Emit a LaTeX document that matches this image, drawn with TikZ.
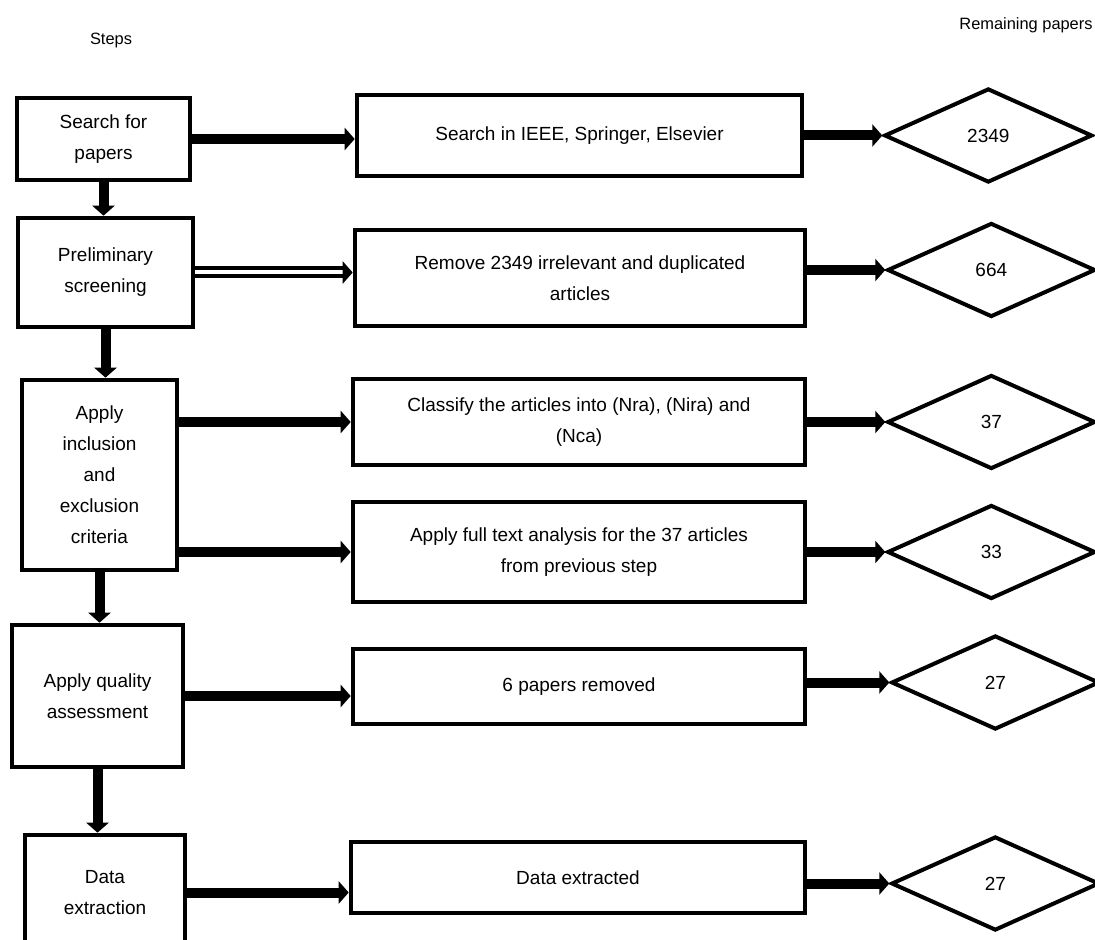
\documentclass[tikz,border=0pt]{standalone}
\usepackage{fontspec}
\setmainfont{Liberation Sans}
\usetikzlibrary{positioning,shapes.geometric,arrows.meta}

\tikzset{
  boxfont/.style={font=\fontsize{9.5}{15.5}\selectfont},
  heading/.style={font=\fontsize{8.2}{10}\selectfont},
  stepbox/.style={draw, line width=2.3pt, align=center, inner sep=0pt, boxfont},
  taskbox/.style={draw, line width=2.3pt, align=center, inner sep=0pt, boxfont},
  countbox/.style={draw, diamond, line width=2pt, inner sep=0pt,
    minimum width=104pt, minimum height=47pt, boxfont},
  flow/.style={line width=5pt, -{Triangle[length=5pt,width=11pt]}},
  dblflow/.style={double, double distance=2pt, line width=2pt,
    -{Triangle[length=5pt,width=11pt]}}
}

\begin{document}
\begin{tikzpicture}[x=0.5pt,y=-0.5pt]
  \useasboundingbox (0,0) rectangle (1095,940);
  \fill[white] (0,0) rectangle (1095,940);

  %% column titles
  \node[heading] (steps) at (111,40) {Steps};
  \node[heading] (remain) at (1026,25) {Remaining papers};

  %% steps
  \node[stepbox, minimum width=86.5pt, minimum height=41pt] (s1) at (103.5,139) {Search for\\papers};
  \node[stepbox, minimum width=87.5pt, minimum height=54.5pt] (s2) at (105.5,272.5) {Preliminary\\screening};
  \node[stepbox, minimum width=77.5pt, minimum height=95pt] (s3) at (99.5,475) {Apply\\inclusion\\and\\exclusion\\criteria};
  \node[stepbox, minimum width=85.5pt, minimum height=71pt] (s4) at (97.5,696) {Apply quality\\assessment};
  \node[stepbox, minimum width=80pt, minimum height=57.5pt] (s5) at (105,892.5) {Data\\extraction};

  %% tasks
  \node[taskbox, minimum width=222.5pt, minimum height=40.5pt] (m1) at (579.5,135.5) {Search in IEEE, Springer, Elsevier};
  \node[taskbox, minimum width=225pt, minimum height=48pt] (m2) at (580,278) {Remove 2349 irrelevant and duplicated\\articles};
  \node[taskbox, minimum width=226pt, minimum height=43pt] (m3) at (579,422) {Classify the articles into (Nra), (Nira) and\\(Nca)};
  \node[taskbox, minimum width=226pt, minimum height=50pt] (m4) at (579,552) {Apply full text analysis for the 37 articles\\from previous step};
  \node[taskbox, minimum width=226pt, minimum height=37.5pt] (m5) at (579,686.5) {6 papers removed};
  \node[taskbox, minimum width=227pt, minimum height=35.5pt] (m6) at (578,877.5) {Data extracted};

  %% remaining counts
  \node[countbox, right=39pt of m1] (d1) {2349};
  \node[countbox, right=39pt of m2, yshift=4pt] (d2) {664};
  \node[countbox, right=39pt of m3] (d3) {37};
  \node[countbox, right=39pt of m4] (d4) {33};
  \node[countbox, right=41pt of m5, yshift=2pt] (d5) {27};
  \node[countbox, right=41pt of m6, yshift=-3pt] (d6) {27};

  %% step to step
  \draw[flow] (s1.south) -- (s1.south |- s2.north);
  \draw[flow] (s2.south) -- (s2.south |- s3.north);
  \draw[flow] (s3.south) -- (s3.south |- s4.north);
  \draw[flow] (s4.south) -- (s4.south |- s5.north);

  %% step to task
  \draw[flow] (s1.east) -- (s1.east -| m1.west);
  \draw[dblflow] (s2.east) -- (s2.east -| m2.west);
  \draw[flow] (m3.west -| s3.east) -- (m3.west);
  \draw[flow] (m4.west -| s3.east) -- (m4.west);
  \draw[flow] (s4.east) -- (s4.east -| m5.west);
  \draw[flow] (s5.east) -- (s5.east -| m6.west);

  %% task to count
  \foreach \i in {1,...,6}
    \draw[flow] (m\i.east |- d\i.west) -- (d\i.west);
\end{tikzpicture}
\end{document}
